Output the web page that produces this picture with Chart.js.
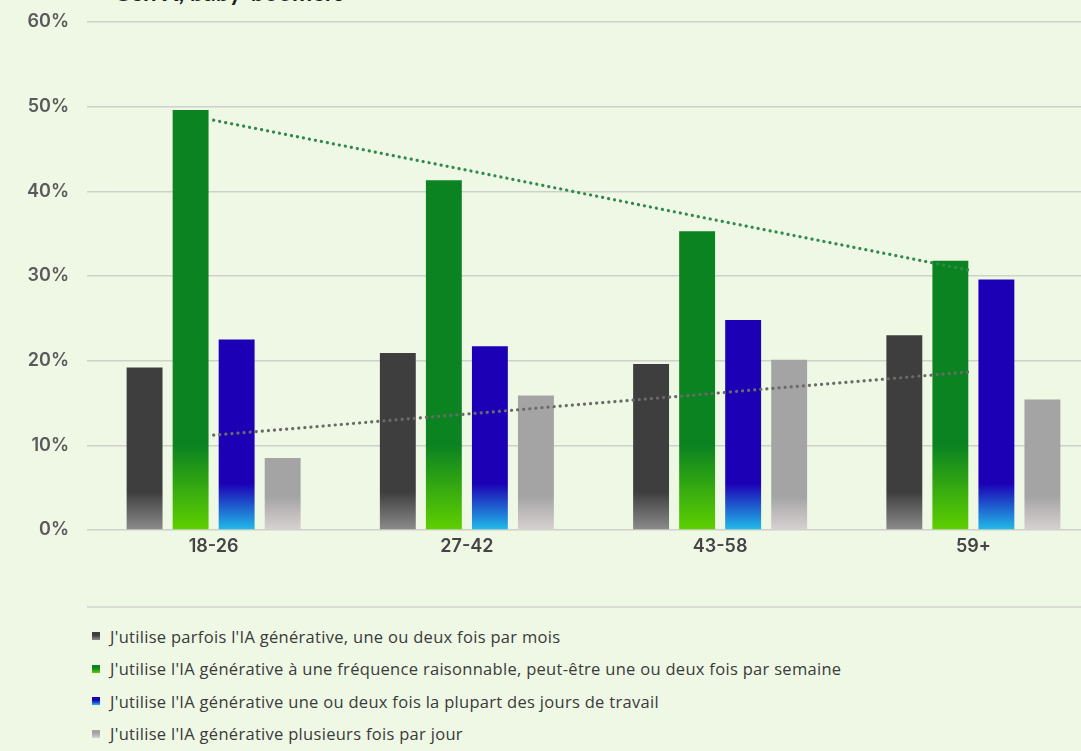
<!DOCTYPE html>
<html lang="fr">
<head>
<meta charset="utf-8">
<script src="https://cdn.jsdelivr.net/npm/chart.js@4.4.1/dist/chart.umd.min.js"></script>
<style>
  html, body { margin:0; padding:0; width:1081px; height:751px; overflow:hidden; background:#eef8e5; }
  #title { position:absolute; left:113px; top:-20px; font:700 24px "Lato", "DejaVu Sans", sans-serif; color:#1e1e1e; line-height:24px; white-space:nowrap; }
  #wrap { position:absolute; left:0; top:0; width:1100px; height:572px; }
  #sep { position:absolute; left:87px; top:606px; width:994px; height:2px; background:#d9ddd3; }
  #legend { position:absolute; left:92px; top:624px; font:16.5px "Open Sans", "Noto Sans", sans-serif; letter-spacing:0.3px; color:#3a3a3a; }
  .item { height:32.5px; display:flex; align-items:center; position:relative; top:-4px; }
  .sw { width:8px; height:8px; margin-right:10px; }
</style>
</head>
<body>
<div id="title">Gen X, baby-boomers</div>
<div id="wrap"><canvas id="c" width="1100" height="572"></canvas></div>
<div id="sep"></div>
<div id="legend"></div>
<script>
const categories = ["18-26", "27-42", "43-58", "59+"];
const seriesLabels = [
  "J'utilise parfois l'IA générative, une ou deux fois par mois",
  "J'utilise l'IA générative à une fréquence raisonnable, peut-être une ou deux fois par semaine",
  "J'utilise l'IA générative une ou deux fois la plupart des jours de travail",
  "J'utilise l'IA générative plusieurs fois par jour"
];
const monthly = [19.2, 20.9, 19.6, 23.0];
const weekly = [49.6, 41.3, 35.3, 31.8];
const mostDays = [22.5, 21.7, 24.8, 29.6];
const severalDaily = [8.5, 15.9, 20.1, 15.4];
const weeklyTrend = [48.4, 42.5, 36.5, 30.6];
const dailyTrend = [11.2, 13.7, 16.2, 18.7];
const yTicks = [0, 10, 20, 30, 40, 50, 60];

const mainColors = ["#3e3e3e", "#0b8321", "#1c00b5", "#a4a4a4"];
const baseColors = ["#8c8c8c", "#5fd000", "#22bce8", "#d8d2d2"];
const fadeTop = [4.5, 10, 5.5, 4];

function grad(i) {
  return function(ctx) {
    const chart = ctx.chart;
    const y = chart.scales && chart.scales.y;
    if (!chart.chartArea || !y) return mainColors[i];
    const y0 = y.getPixelForValue(0);
    const y1 = y.getPixelForValue(fadeTop[i]);
    const g = chart.ctx.createLinearGradient(0, y0, 0, y1);
    g.addColorStop(0, baseColors[i]);
    g.addColorStop(1, mainColors[i]);
    return g;
  };
}

const barSeries = [monthly, weekly, mostDays, severalDaily];
const datasets = barSeries.map((d, i) => ({
  type: 'bar', label: seriesLabels[i], data: d, order: 2,
  backgroundColor: grad(i), borderWidth: 0,
  categoryPercentage: 0.727, barPercentage: 0.78
}));
datasets.push({
  type: 'line', label: 'trend-weekly', data: weeklyTrend, order: 0,
  borderColor: "#2f8a4c", borderWidth: 3.2, borderDash: [0.1, 6], borderCapStyle: 'round',
  pointRadius: 0, fill: false, tension: 0
});
datasets.push({
  type: 'line', label: 'trend-daily', data: dailyTrend, order: 0,
  borderColor: "#6a6a6a", borderWidth: 3.2, borderDash: [0.1, 6], borderCapStyle: 'round',
  pointRadius: 0, fill: false, tension: 0
});

new Chart(document.getElementById('c'), {
  type: 'bar',
  data: { labels: categories, datasets },
  options: {
    responsive: false, animation: false,
    layout: { padding: { top: 22, right: 0, bottom: 0, left: 0 } },
    plugins: { legend: { display: false }, tooltip: { enabled: false }, title: { display: false } },
    scales: {
      x: {
        grid: { display: false, drawTicks: false }, border: { display: false },
        ticks: { color: "#444", font: { family: "Inter", size: 18, weight: 600 }, padding: 6 },
        afterFit: s => { s.height = 42; s.paddingLeft = 0; s.paddingRight = 0; }
      },
      y: {
        min: 0, max: 60,
        afterBuildTicks: s => { s.ticks = yTicks.map(v => ({ value: v })); },
        grid: { color: "#cdd1c9", lineWidth: 1.5, drawTicks: false },
        border: { display: false },
        ticks: { color: "#5a5a5a", font: { family: "Inter", size: 18, weight: 600 }, padding: 18, callback: v => v + "%" },
        afterFit: s => { s.width = 87; s.paddingTop = 0; s.paddingBottom = 0; }
      }
    }
  }
});

const leg = document.getElementById('legend');
seriesLabels.forEach((t, i) => {
  const it = document.createElement('div'); it.className = 'item';
  const sw = document.createElement('span'); sw.className = 'sw';
  sw.style.background = `linear-gradient(to top, ${baseColors[i]} 0%, ${mainColors[i]} 60%)`;
  const tx = document.createElement('span'); tx.textContent = t;
  it.appendChild(sw); it.appendChild(tx); leg.appendChild(it);
});
</script>
</body>
</html>
